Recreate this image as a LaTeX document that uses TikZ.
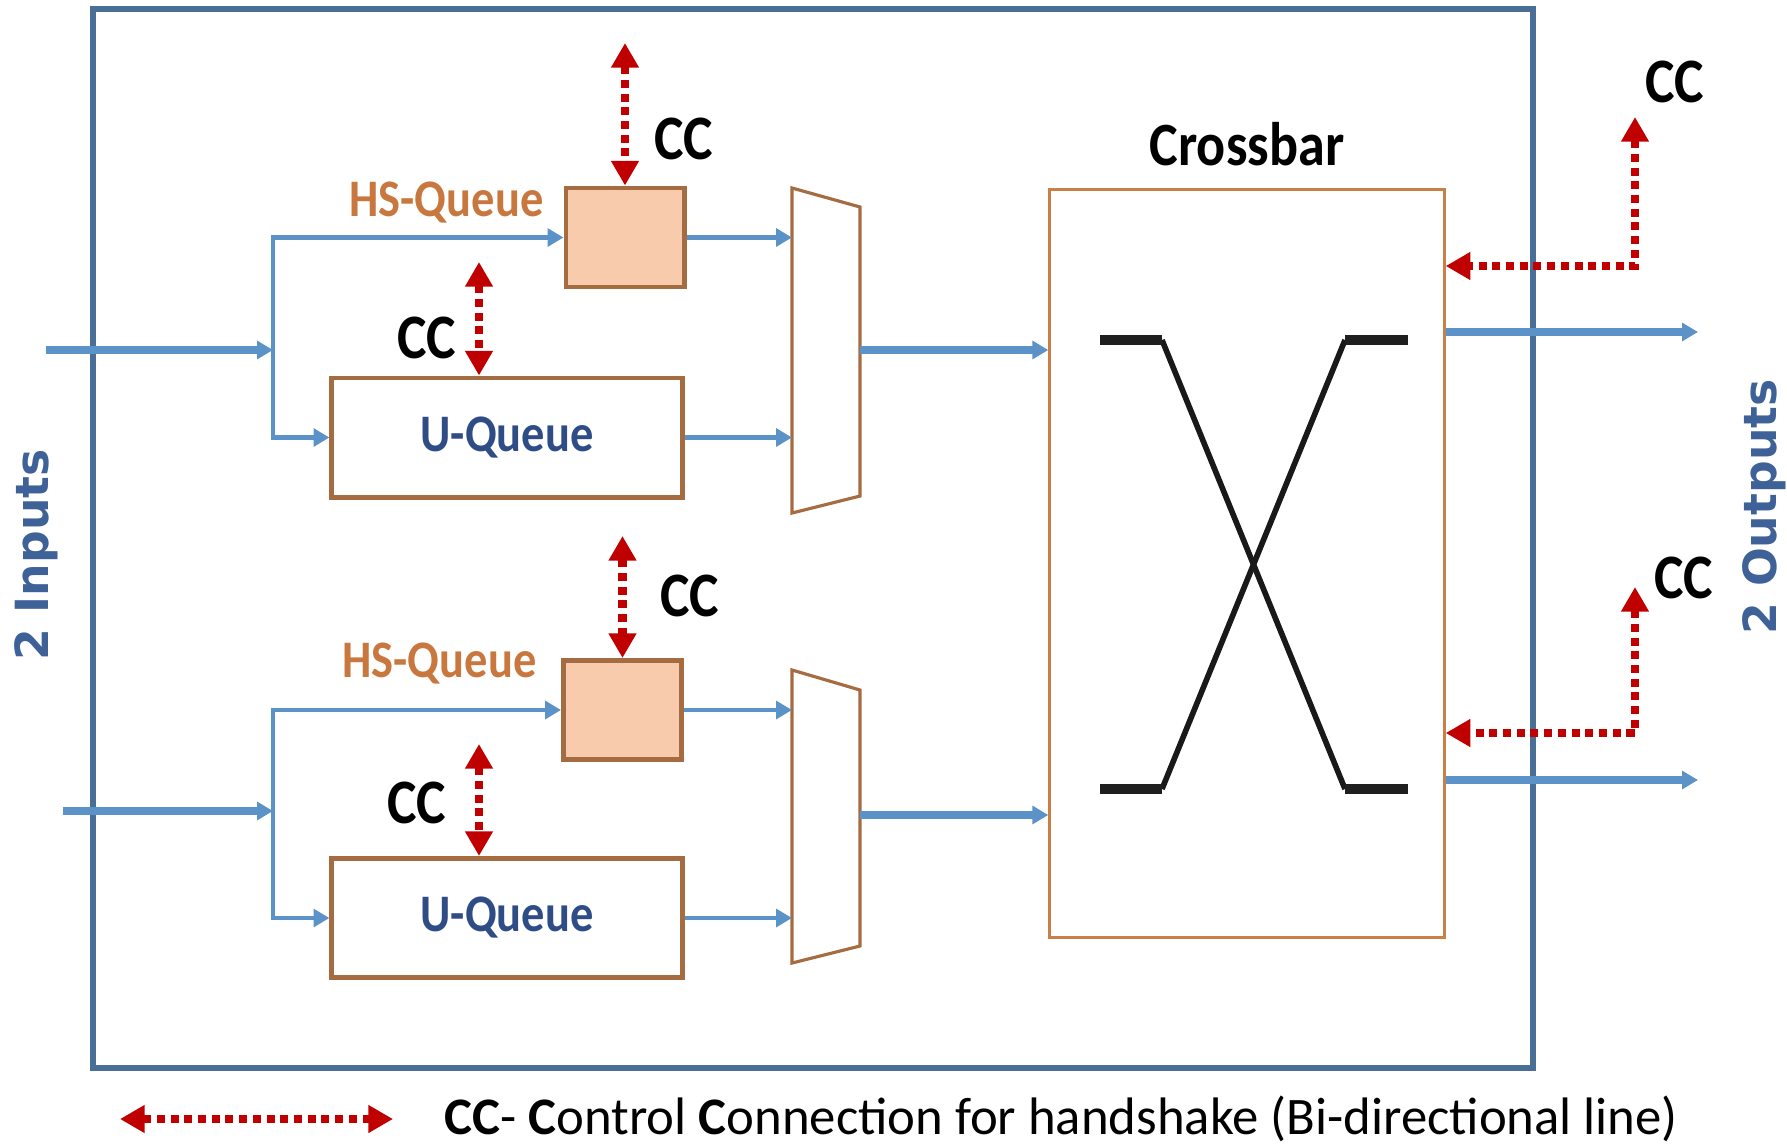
\documentclass[tikz,border=0pt]{standalone}
\usepackage{fontspec}
\setmainfont{Carlito}
\newfontfamily\lblfont[FakeStretch=0.88]{Carlito}
\newfontfamily\sidefont{DejaVu Sans}
\usetikzlibrary{arrows.meta,positioning}
\definecolor{frameBlue}{RGB}{74,111,150}
\definecolor{flowBlue}{RGB}{91,146,200}
\definecolor{qBrown}{RGB}{165,108,66}
\definecolor{hsFill}{RGB}{248,203,173}
\definecolor{hsText}{RGB}{200,120,62}
\definecolor{uText}{RGB}{46,76,134}
\definecolor{ccRed}{RGB}{192,0,0}
\definecolor{xbarEdge}{RGB}{200,128,70}
\definecolor{ioBlue}{RGB}{62,98,152}
\tikzset{
  frame/.style={draw=frameBlue,line width=1.7pt},
  flow/.style={draw=flowBlue,line width=1.4pt,-{Triangle[length=4.5pt,width=5pt]}},
  flowin/.style={flow,line width=2pt},
  hsbox/.style={draw=qBrown,fill=hsFill,line width=1.4pt,minimum width=1.18cm,minimum height=0.99cm,inner sep=0pt},
  ubox/.style={draw=qBrown,fill=white,line width=1.4pt,minimum width=3.5cm,minimum height=1.19cm,inner sep=0pt,
    text=uText,font=\lblfont\bfseries\fontsize{15}{15}\selectfont},
  hslbl/.style={text=hsText,inner sep=0pt,font=\lblfont\bfseries\fontsize{15}{15}\selectfont},
  cclbl/.style={inner sep=0pt,font=\lblfont\bfseries\fontsize{18}{18}\selectfont},
  lbl/.style={inner sep=0pt,font=\lblfont\bfseries\fontsize{17.5}{17.5}\selectfont},
  iolbl/.style={text=ioBlue,inner sep=0pt,font=\sidefont\bfseries\fontsize{13}{13}\selectfont},
  muxline/.style={draw=qBrown,line width=0.9pt},
  xbox/.style={draw=xbarEdge,line width=0.9pt,minimum width=3.94cm,minimum height=7.47cm,inner sep=0pt},
  xdiag/.style={draw=black!90,line width=1.6pt},
  xbarline/.style={draw=black!88,line width=3.1pt},
  cc/.style={draw=ccRed,line width=2.5pt,dash pattern=on 2.3pt off 1.6pt,
    {Triangle[length=7pt,width=7.5pt]}-{Triangle[length=7pt,width=7.5pt]}},
  legtxt/.style={inner sep=0pt,font=\fontsize{15}{15}\selectfont}
}
\begin{document}
\begin{tikzpicture}[x=0.01cm,y=-0.01cm]
  \useasboundingbox (0,0) rectangle (1787,1148);
  % outer frame
  \draw[frame] (93,9) rectangle (1533,1068);
  \node[iolbl,rotate=90] (inlbl) at (36,555) {2 Inputs};
  \node[iolbl,rotate=90] (outlbl) at (1764,507) {2 Outputs};

  % queues
  \node[hsbox] (hsq1) at (625,237.5) {};
  \node[ubox] (uq1) at (507,437.5) {U-Queue};
  \node[hsbox] (hsq2) at (622.5,710) {};
  \node[ubox] (uq2) at (507,918) {U-Queue};
  \node[hslbl,anchor=east] (hsl1) at (544,203) {HS-Queue};
  \node[hslbl,anchor=east] (hsl2) at (537,664) {HS-Queue};

  % muxes
  \draw[muxline] (792,188) coordinate (mux1a) -- (860,207) -- (860,496) -- (792,513) -- cycle;
  \draw[muxline] (792,670) coordinate (mux2a) -- (860,690) -- (860,946) -- (792,963) -- cycle;
  \coordinate (mux1out) at (860,350);
  \coordinate (mux2out) at (860,815);

  % crossbar
  \node[xbox] (xbar) at (1247,563.5) {};
  \node[lbl,above=0.22cm of xbar] (xbarlbl) {Crossbar};
  \draw[xdiag] (1162,340) -- (1345,789);
  \draw[xdiag] (1345,340) -- (1162,789);
  \draw[xbarline] (1100,340) -- (1162,340) (1345,340) -- (1408,340)
    (1100,789) -- (1162,789) (1345,789) -- (1408,789);

  % data paths
  \coordinate (in1) at (46,350);
  \coordinate (br1) at (273,350);
  \coordinate (in2) at (63,811);
  \coordinate (br2) at (273,811);
  \draw[flowin] (in1) -- (br1);
  \draw[flow] (br1) |- (hsq1.west);
  \draw[flow] (br1) |- (uq1.west);
  \draw[flowin] (in2) -- (br2);
  \draw[flow] (br2) |- (hsq2.west);
  \draw[flow] (br2) |- (uq2.west);
  \draw[flow] (hsq1.east) -- (hsq1.east -| mux1a);
  \draw[flow] (uq1.east) -- (uq1.east -| mux1a);
  \draw[flow] (hsq2.east) -- (hsq2.east -| mux2a);
  \draw[flow] (uq2.east) -- (uq2.east -| mux2a);
  \draw[flowin] (mux1out) -- (mux1out -| xbar.west);
  \draw[flowin] (mux2out) -- (mux2out -| xbar.west);
  \coordinate (out1) at (1698,332);
  \coordinate (out2) at (1698,780);
  \draw[flowin] (out1 -| xbar.east) -- (out1);
  \draw[flowin] (out2 -| xbar.east) -- (out2);

  % control connections
  \coordinate (cc1) at (625,43);
  \coordinate (cc2) at (479,262);
  \coordinate (cc3) at (622.5,536);
  \coordinate (cc4) at (479,744);
  \draw[cc] (cc1) -- (hsq1.north);
  \draw[cc] (cc2) -- (cc2 |- uq1.north);
  \draw[cc] (cc3) -- (hsq2.north);
  \draw[cc] (cc4) -- (cc4 |- uq2.north);
  \node[cclbl] (cc1l) at (684,139) {CC};
  \node[cclbl] (cc2l) at (427,338) {CC};
  \node[cclbl] (cc3l) at (690,596) {CC};
  \node[cclbl] (cc4l) at (417,803) {CC};
  \coordinate (cc5) at (1635,266);
  \coordinate (cc5t) at (1635,117);
  \coordinate (cc6) at (1635,733);
  \coordinate (cc6t) at (1635,587);
  \draw[cc] (cc5t) -- (cc5) -- (cc5 -| xbar.east);
  \draw[cc] (cc6t) -- (cc6) -- (cc6 -| xbar.east);
  \node[cclbl] (cc5l) at (1675,82) {CC};
  \node[cclbl] (cc6l) at (1684,578) {CC};

  % legend
  \coordinate (leg1) at (120,1119);
  \coordinate (leg2) at (393,1119);
  \draw[cc] (leg1) -- (leg2);
  \node[legtxt,right=0.51cm of leg2] (legtext)
    {\textbf{CC}- \textbf{C}ontrol \textbf{C}onnection for handshake (Bi-directional line)};
\end{tikzpicture}
\end{document}
